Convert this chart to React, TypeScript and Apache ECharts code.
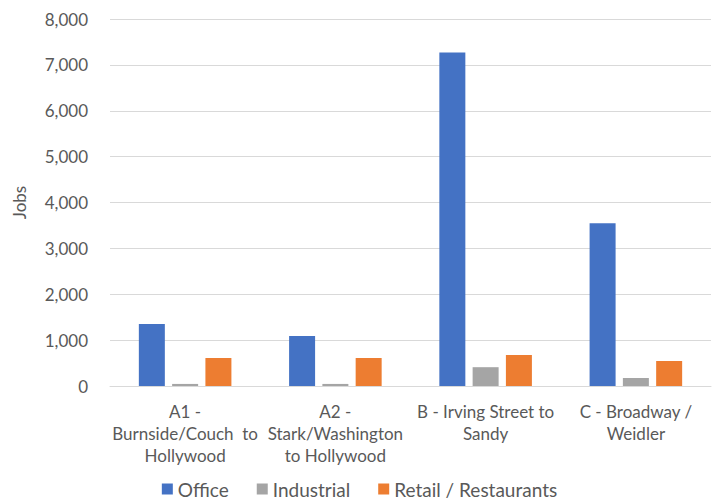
import React, { useEffect, useRef } from "react";
import * as echarts from "echarts";

const categories = [
  "A1 -\nBurnside/Couch  to\nHollywood",
  "A2 -\nStark/Washington\nto Hollywood",
  "B - Irving Street to\nSandy",
  "C - Broadway /\nWeidler",
];
const seriesNames = ["Office", "Industrial", "Retail / Restaurants"];
const office = [1350, 1090, 7270, 3550];
const industrial = [45, 45, 410, 175];
const retail = [610, 610, 675, 545];
const colors = ["#4472C4", "#A5A5A5", "#ED7D31"];

export default function App() {
  const ref = useRef<HTMLDivElement>(null);
  useEffect(() => {
    if (!ref.current) return;
    const chart = echarts.init(ref.current, undefined, { renderer: "svg" });
    const font = "Lato, 'Open Sans', sans-serif";
    const data = [office, industrial, retail];
    chart.setOption({
      animation: false,
      textStyle: { fontFamily: font },
      legend: {
        top: 479,
        left: "center",
        padding: 0,
        itemWidth: 11,
        itemHeight: 11,
        itemGap: 28,
        icon: "rect",
        textStyle: { fontSize: 19, color: "#595959", fontFamily: font, lineHeight: 20 },
        data: seriesNames,
      },
      grid: { left: 110, right: 8, top: 19, bottom: 115 },
      xAxis: {
        type: "category",
        data: categories,
        axisTick: { show: false },
        axisLine: { lineStyle: { color: "#d9d9d9" } },
        axisLabel: {
          color: "#595959",
          fontSize: 17,
          lineHeight: 22,
          margin: 14,
          interval: 0,
          fontFamily: font,
        },
      },
      yAxis: {
        type: "value",
        min: 0,
        max: 8000,
        interval: 1000,
        name: "Jobs",
        nameLocation: "middle",
        nameGap: 82,
        nameTextStyle: { color: "#595959", fontSize: 17, fontFamily: font },
        axisLabel: {
          color: "#595959",
          fontSize: 17,
          margin: 22,
          fontFamily: font,
          formatter: (v: number) => v.toLocaleString("en-US"),
        },
        splitLine: { lineStyle: { color: "#d9d9d9" } },
      },
      series: seriesNames.map((name, i) => ({
        name,
        type: "bar",
        data: data[i],
        barWidth: 26,
        barGap: "28%",
        itemStyle: { color: colors[i] },
      })),
    });
    return () => chart.dispose();
  }, []);
  return (
    <div
      ref={ref}
      style={{ position: "fixed", left: 0, top: 0, width: 719, height: 501, background: "#fff" }}
    />
  );
}
